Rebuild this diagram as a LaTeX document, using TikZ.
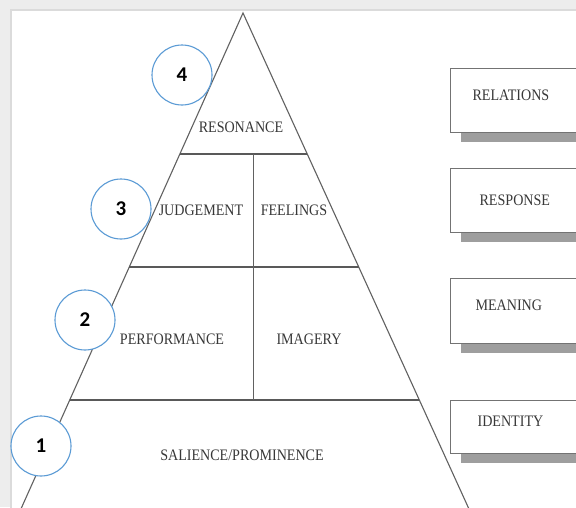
\documentclass[tikz,border=0pt]{standalone}
\usepackage{fontspec}
\newfontfamily\labelfont[FakeStretch=0.88]{Liberation Serif}
\newfontfamily\numfont{Carlito}
\usetikzlibrary{calc,shadows}
\definecolor{circleblue}{HTML}{5B9BD5}

\begin{document}
\begin{tikzpicture}[
  x=1pt, y=-1pt,
  pyramid line/.style={draw=black!62, line width=1.1pt},
  level line/.style={draw=black!65, line width=1.7pt},
  level text/.style={font=\labelfont\fontsize{16}{18}\selectfont, text=black!78, inner sep=1pt},
  level box/.style={draw=black!55, line width=1.2pt, fill=white, anchor=north west,
    text width=140pt, align=left, inner xsep=22pt, inner ysep=0pt,
    font=\labelfont\fontsize{16}{18}\selectfont, text=black!78,
    drop shadow={shadow xshift=10pt, shadow yshift=-9pt, fill=black!38, opacity=1}},
  raised/.style={text depth=11pt},
  num/.style={circle, draw=circleblue, fill=white, line width=1.1pt, minimum size=60pt,
    inner sep=0pt, font=\numfont\bfseries\fontsize{21}{24}\selectfont}
]
\useasboundingbox (0,0) rectangle (576,507);
\clip (0,0) rectangle (576,507);

% card background
\fill[black!7] (0,0) rectangle (576,507);
\fill[white] (11,10) rectangle (590,520);
\draw[black!14, line width=1.5pt] (11,520) -- (11,10) -- (590,10);

% pyramid
\coordinate (apex) at (243,13);
\coordinate (bl) at (16,520);
\coordinate (br) at (474,520);
\coordinate (l1) at ($(apex)!0.278!(bl)$);
\coordinate (r1) at ($(apex)!0.278!(br)$);
\coordinate (l2) at ($(apex)!0.501!(bl)$);
\coordinate (r2) at ($(apex)!0.501!(br)$);
\coordinate (l3) at ($(apex)!0.763!(bl)$);
\coordinate (r3) at ($(apex)!0.763!(br)$);
\coordinate (div1) at (253.5,154);
\coordinate (div2) at (253.5,400);

\draw[pyramid line] (bl) -- (apex) -- (br);
\draw[level line] (l1) -- (r1);
\draw[level line] (l2) -- (r2);
\draw[level line] (l3) -- (r3);
\draw[pyramid line] (div1) -- (div2);

% Niveau 4
\node[level text] (resonance) at (241,127) {RESONANCE};
% Niveau 3
\node[level text] (judgement) at (201,210) {JUDGEMENT};
\node[level text] (feelings) at (294,210) {FEELINGS};
% Niveau 2
\node[level text] (performance) at (172,339) {PERFORMANCE};
\node[level text] (imagery) at (309,339) {IMAGERY};
% Niveau 1
\node[level text] (salience) at (242,455) {SALIENCE/PROMINENCE};

% step numbers
\node[num] (n4) at (182,75) {4};
\node[num] (n3) at (121,209) {3};
\node[num] (n2) at (85,320) {2};
\node[num] (n1) at (41,446) {1};

% boxes on the right
\node[level box, raised, minimum height=64pt] (relations) at (450,68) {RELATIONS};
\node[level box, minimum height=64pt] (response) at (450,168) {\hspace*{7pt}RESPONSE};
\node[level box, raised, minimum height=65pt] (meaning) at (450,278) {\hspace*{3pt}MEANING};
\node[level box, raised, minimum height=53pt] (identity) at (450,400) {\hspace*{5pt}IDENTITY};
\end{tikzpicture}
\end{document}
